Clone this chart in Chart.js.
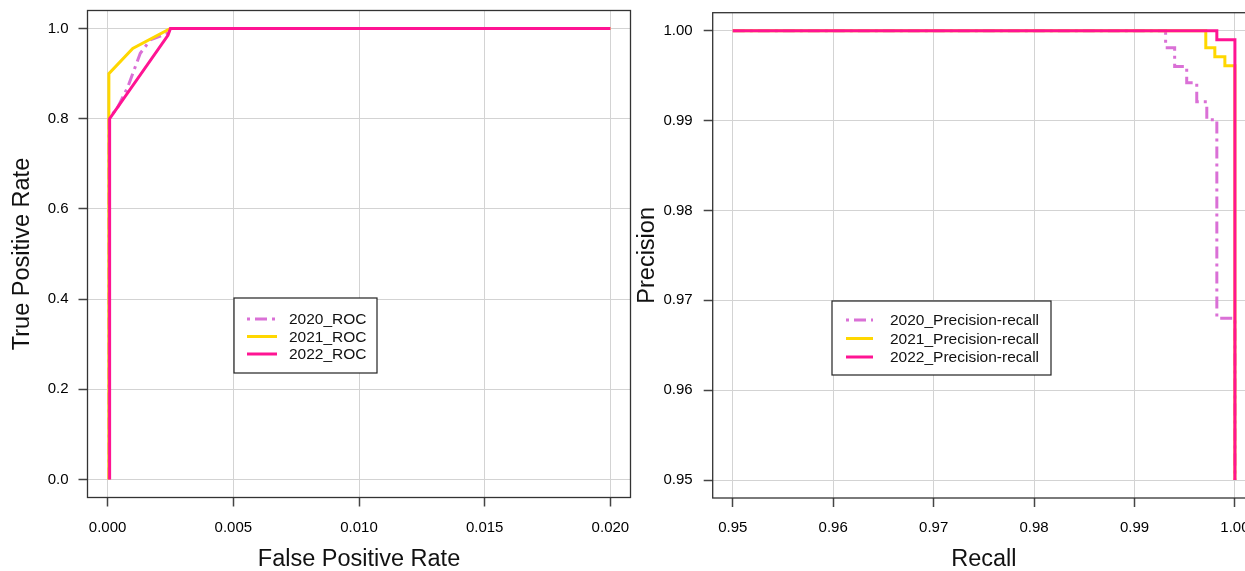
<!DOCTYPE html>
<html><head><meta charset="utf-8">
<script src="https://cdn.jsdelivr.net/npm/chart.js@4"></script>
<style>
html,body{margin:0;padding:0;width:1245px;height:571px;overflow:hidden;background:#fff;}
canvas{position:absolute;top:0;}
#roc{left:0;}
#pr{left:620px;}
</style></head><body>
<canvas id="roc" width="640" height="571" style="width:640px;height:571px"></canvas>
<canvas id="pr" width="640" height="571" style="width:640px;height:571px"></canvas>
<script>
// ---- ROC data ----
const rocNames = ['2020_ROC', '2021_ROC', '2022_ROC'];
const roc2020Fpr = [0.00005, 0.00005, 0.0004, 0.0008, 0.0013, 0.0017, 0.0024, 0.0025, 0.02];
const roc2020Tpr = [0, 0.8, 0.825, 0.87, 0.945, 0.975, 0.99, 1.0, 1.0];
const roc2021Fpr = [0.00005, 0.00005, 0.001, 0.0025, 0.02];
const roc2021Tpr = [0, 0.9, 0.956, 1.0, 1.0];
const roc2022Fpr = [0.00008, 0.00008, 0.0024, 0.0025, 0.02];
const roc2022Tpr = [0, 0.8, 0.985, 1.0, 1.0];
const rocXTicks = [0, 0.005, 0.01, 0.015, 0.02];
const rocXLabels = ['0.000', '0.005', '0.010', '0.015', '0.020'];
const rocYTicks = [0, 0.2, 0.4, 0.6, 0.8, 1.0];
const rocYLabels = ['0.0', '0.2', '0.4', '0.6', '0.8', '1.0'];

// ---- Precision-recall data ----
const prNames = ['2020_Precision-recall', '2021_Precision-recall', '2022_Precision-recall'];
const pr2020Recall = [0.95, 0.9931, 0.9931, 0.9940, 0.9940, 0.9952, 0.9952, 0.9962, 0.9962, 0.9972, 0.9972, 0.9982, 0.9982, 1.0, 1.0];
const pr2020Precision = [1.0, 1.0, 0.9981, 0.9981, 0.9960, 0.9960, 0.9942, 0.9942, 0.9921, 0.9921, 0.9901, 0.9901, 0.968, 0.968, 0.95];
const pr2021Recall = [0.95, 0.9971, 0.9971, 0.9980, 0.9980, 0.9990, 0.9990, 1.0, 1.0];
const pr2021Precision = [1.0, 1.0, 0.9981, 0.9981, 0.9971, 0.9971, 0.9961, 0.9961, 0.95];
const pr2022Recall = [0.95, 0.9982, 0.9982, 1.0, 1.0];
const pr2022Precision = [1.0, 1.0, 0.9990, 0.9990, 0.95];
const prXTicks = [0.95, 0.96, 0.97, 0.98, 0.99, 1.0];
const prXLabels = ['0.95', '0.96', '0.97', '0.98', '0.99', '1.00'];
const prYTicks = [0.95, 0.96, 0.97, 0.98, 0.99, 1.0];
const prYLabels = ['0.95', '0.96', '0.97', '0.98', '0.99', '1.00'];

const colors = ['#DA70D6', '#FFD700', '#FF1493'];
const FONT = '"Liberation Sans", Arial, sans-serif';
const dotDash = [12, 5, 3, 5];

function pts(xs, ys) { return xs.map((x, i) => ({x: x, y: ys[i]})); }

function makeDatasets(names, xsList, ysList) {
  return names.map((n, i) => ({
    label: n,
    data: pts(xsList[i], ysList[i]),
    borderColor: colors[i],
    backgroundColor: colors[i],
    borderWidth: 3,
    borderDash: i === 0 ? dotDash : [],
    pointRadius: 0,
    showLine: true,
    fill: false,
    tension: 0,
    order: 3 - i
  }));
}

function axis(min, max, ticks, labels, title, isX, size, labelPad, titlePad) {
  return {
    type: 'linear',
    min: min, max: max,
    afterBuildTicks: s => { s.ticks = ticks.map(v => ({value: v})); },
    afterFit: s => {
      if (isX) s.height = size; else s.width = size;
      s.paddingTop = 0; s.paddingBottom = 0; s.paddingLeft = 0; s.paddingRight = 0;
    },
    grid: { color: '#d3d3d3', lineWidth: 1, drawTicks: true, tickLength: 9, tickColor: '#444', tickWidth: 1.5 },
    border: { display: false },
    ticks: {
      autoSkip: false, maxRotation: 0, minRotation: 0,
      padding: labelPad,
      color: '#000',
      font: { family: FONT, size: 15 },
      callback: (v, i) => labels[i]
    },
    title: {
      display: true, text: title, color: '#111',
      font: { family: FONT, size: 23.5, lineHeight: 1 },
      padding: isX ? { top: 0, bottom: titlePad } : { top: titlePad, bottom: 0 }
    }
  };
}

const rFrameLegend = {
  id: 'rFrameLegend',
  afterDatasetsDraw(chart, args, opts) {
    const ctx = chart.ctx, ca = chart.chartArea;
    ctx.save();
    ctx.strokeStyle = '#333';
    ctx.lineWidth = 1.3;
    ctx.strokeRect(ca.left, ca.top, ca.right - ca.left, ca.bottom - ca.top);
    // legend box
    ctx.fillStyle = '#fff';
    ctx.fillRect(opts.x, opts.y, opts.w, opts.h);
    ctx.strokeStyle = '#222';
    ctx.lineWidth = 1.2;
    ctx.strokeRect(opts.x, opts.y, opts.w, opts.h);
    chart.data.datasets.forEach((ds, i) => {
      const y = opts.y + opts.firstRow + i * opts.rowGap;
      ctx.beginPath();
      ctx.strokeStyle = ds.borderColor;
      ctx.lineWidth = 3;
      ctx.setLineDash(ds.borderDash || []);
      ctx.lineDashOffset = 17;
      ctx.moveTo(opts.x + opts.lineStart, y);
      ctx.lineTo(opts.x + opts.lineEnd, y);
      ctx.stroke();
      ctx.setLineDash([]);
      ctx.fillStyle = '#111';
      ctx.font = '15.5px ' + FONT;
      ctx.textBaseline = 'middle';
      ctx.textAlign = 'left';
      ctx.fillText(ds.label, opts.x + opts.textX, y + 1);
    });
    ctx.restore();
  }
};

new Chart(document.getElementById('roc'), {
  type: 'scatter',
  data: { datasets: makeDatasets(rocNames, [roc2020Fpr, roc2021Fpr, roc2022Fpr], [roc2020Tpr, roc2021Tpr, roc2022Tpr]) },
  options: {
    responsive: false, animation: false,
    layout: { padding: { left: 0, top: 10.5, right: 9.5, bottom: 0 } },
    plugins: {
      legend: { display: false }, tooltip: { enabled: false },
      rFrameLegend: { x: 234, y: 298, w: 143, h: 75, firstRow: 21, rowGap: 17.5, lineStart: 13, lineEnd: 43, textX: 55 }
    },
    scales: {
      x: axis(-0.0008, 0.0208, rocXTicks, rocXLabels, 'False Positive Rate', true, 73.5, 12, 0),
      y: axis(-0.04, 1.04, rocYTicks, rocYLabels, 'True Positive Rate', false, 87.5, 10, 11)
    }
  },
  plugins: [rFrameLegend]
});

new Chart(document.getElementById('pr'), {
  type: 'scatter',
  data: { datasets: makeDatasets(prNames, [pr2020Recall, pr2021Recall, pr2022Recall], [pr2020Precision, pr2021Precision, pr2022Precision]) },
  options: {
    responsive: false, animation: false,
    layout: { padding: { left: 0, top: 12.7, right: 5, bottom: 0 } },
    plugins: {
      legend: { display: false }, tooltip: { enabled: false },
      rFrameLegend: { x: 212, y: 301, w: 219, h: 74, firstRow: 19, rowGap: 18.5, lineStart: 14, lineEnd: 41, textX: 58 }
    },
    scales: {
      x: axis(0.948, 1.002, prXTicks, prXLabels, 'Recall', true, 73, 12, 0),
      y: axis(0.948, 1.002, prYTicks, prYLabels, 'Precision', false, 92.7, 11, 16)
    }
  },
  plugins: [rFrameLegend]
});
</script>
</body></html>
